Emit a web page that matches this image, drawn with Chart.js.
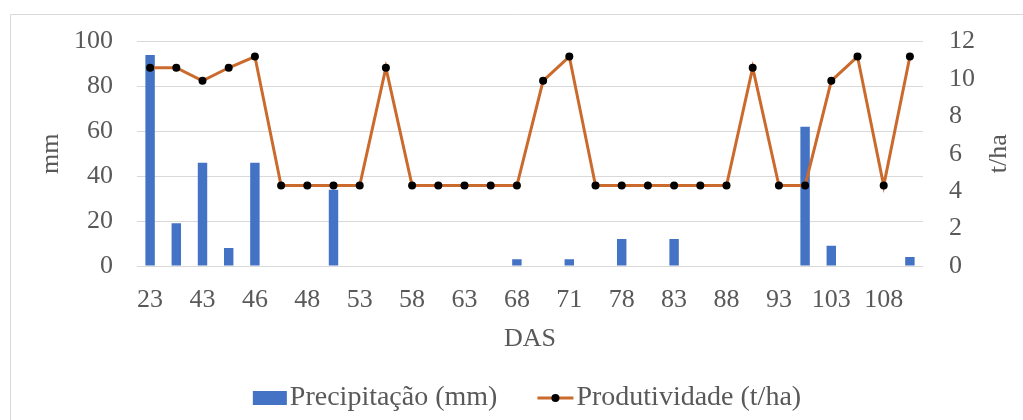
<!DOCTYPE html>
<html>
<head>
<meta charset="utf-8">
<script src="https://cdn.jsdelivr.net/npm/chart.js@4/dist/chart.umd.min.js"></script>
<style>
  html, body { margin: 0; padding: 0; background: #ffffff; }
  #wrap { width: 1023px; height: 420px; position: relative; }
</style>
</head>
<body>
<div id="wrap"><canvas id="chart" width="1023" height="420"></canvas></div>
<script>
// Days after sowing (only every other label is printed on the axis)
const das = ['23','33','43','45','46','47','48','51','53','56','58','61','63','66','68','70','71','75','78','81','83','86','88','91','93','98','103','106','108','113'];
// Rainfall per sampling date (mm)
const precipitacao = [94,19,46,8,46,0,0,34,0,0,0,0,0,0,3,0,3,0,12,0,12,0,0,0,0,62,9,0,0,4];
// Yield estimate (t/ha)
const produtividade = [10.6,10.6,9.9,10.6,11.2,4.3,4.3,4.3,4.3,10.6,4.3,4.3,4.3,4.3,4.3,9.9,11.2,4.3,4.3,4.3,4.3,4.3,4.3,10.6,4.3,4.3,9.9,11.2,4.3,11.2];
// Axis ranges
const mmTicks = { min: 0, max: 100, step: 20 };
const thaTicks = { min: 0, max: 12, step: 2 };

const FONT = "'Liberation Serif', 'Times New Roman', serif";
const TEXT = '#595959';
const GRID = '#d9d9d9';
const BLUE = '#4472C4';
const ORANGE = '#CB6A2D';

const decorations = {
  id: 'decorations',
  beforeDraw(chart) {
    const ctx = chart.ctx;
    ctx.save();
    ctx.strokeStyle = GRID;
    ctx.lineWidth = 1;
    ctx.beginPath();
    ctx.moveTo(10.5, 420);
    ctx.lineTo(10.5, 14.5);
    ctx.lineTo(1023, 14.5);
    ctx.stroke();
    ctx.restore();
  },
  afterDraw(chart) {
    const ctx = chart.ctx;
    const area = chart.chartArea;
    const midY = (area.top + area.bottom) / 2;
    ctx.save();
    ctx.fillStyle = TEXT;
    ctx.font = '26px ' + FONT;
    ctx.textAlign = 'center';
    ctx.textBaseline = 'middle';
    // left axis title
    ctx.save();
    ctx.translate(51, midY);
    ctx.rotate(-Math.PI / 2);
    ctx.fillText('mm', 0, 0);
    ctx.restore();
    // right axis title
    ctx.save();
    ctx.translate(999, midY);
    ctx.rotate(-Math.PI / 2);
    ctx.fillText('t/ha', 0, 0);
    ctx.restore();

    // legend
    const ds = chart.data.datasets;
    ctx.font = '28px ' + FONT;
    ctx.textAlign = 'left';
    const w1 = ctx.measureText(ds[1].label).width;
    const w2 = ctx.measureText(ds[0].label).width;
    const boxW = 34, lineW = 36, gap = 3, between = 40;
    const total = boxW + gap + w1 + between + lineW + gap + w2;
    let x = 527 - total / 2;
    const y = 398;
    ctx.fillStyle = BLUE;
    ctx.fillRect(x, y - 7, boxW, 14);
    x += boxW + gap;
    ctx.fillStyle = TEXT;
    ctx.fillText(ds[1].label, x, y);
    x += w1 + between;
    ctx.strokeStyle = ORANGE;
    ctx.lineWidth = 3;
    ctx.beginPath();
    ctx.moveTo(x, y);
    ctx.lineTo(x + lineW, y);
    ctx.stroke();
    ctx.fillStyle = '#000000';
    ctx.beginPath();
    ctx.arc(x + lineW / 2, y, 4, 0, Math.PI * 2);
    ctx.fill();
    x += lineW + gap;
    ctx.fillStyle = TEXT;
    ctx.fillText(ds[0].label, x, y);
    ctx.restore();
  }
};

new Chart(document.getElementById('chart'), {
  data: {
    labels: das,
    datasets: [
      {
        type: 'line',
        label: 'Produtividade (t/ha)',
        data: produtividade,
        yAxisID: 'y1',
        order: 0,
        borderColor: ORANGE,
        borderWidth: 3,
        pointRadius: 4,
        pointBackgroundColor: '#000000',
        pointBorderWidth: 0,
        tension: 0
      },
      {
        type: 'bar',
        label: 'Precipitação (mm)',
        data: precipitacao,
        yAxisID: 'y',
        order: 1,
        backgroundColor: BLUE,
        barPercentage: 0.36,
        categoryPercentage: 1.0
      }
    ]
  },
  options: {
    responsive: false,
    animation: false,
    layout: { padding: { left: 0, right: 0, top: 38, bottom: 64 } },
    plugins: {
      legend: { display: false },
      tooltip: { enabled: false }
    },
    scales: {
      x: {
        type: 'category',
        offset: true,
        grid: { display: false, drawTicks: false },
        border: { display: false },
        ticks: {
          autoSkip: false,
          maxRotation: 0,
          padding: 19,
          color: TEXT,
          font: { family: FONT, size: 26 },
          callback: (v, i) => (i % 2 === 0 ? das[i] : '')
        },
        title: {
          display: true,
          text: 'DAS',
          color: TEXT,
          font: { family: FONT, size: 26 },
          padding: { top: 0, bottom: 1.5 }
        },
        afterFit: (s) => { s.height = 90; }
      },
      y: {
        position: 'left',
        min: mmTicks.min,
        max: mmTicks.max,
        grid: { color: GRID, lineWidth: 1, drawTicks: false },
        border: { display: false },
        ticks: {
          stepSize: mmTicks.step,
          padding: 24,
          color: TEXT,
          font: { family: FONT, size: 26 }
        },
        afterFit: (s) => { s.width = 137; }
      },
      y1: {
        position: 'right',
        min: thaTicks.min,
        max: thaTicks.max,
        grid: { display: false, drawTicks: false },
        border: { display: false },
        ticks: {
          stepSize: thaTicks.step,
          padding: 26,
          color: TEXT,
          font: { family: FONT, size: 26 }
        },
        afterFit: (s) => { s.width = 100; }
      }
    }
  },
  plugins: [decorations]
});
</script>
</body>
</html>
